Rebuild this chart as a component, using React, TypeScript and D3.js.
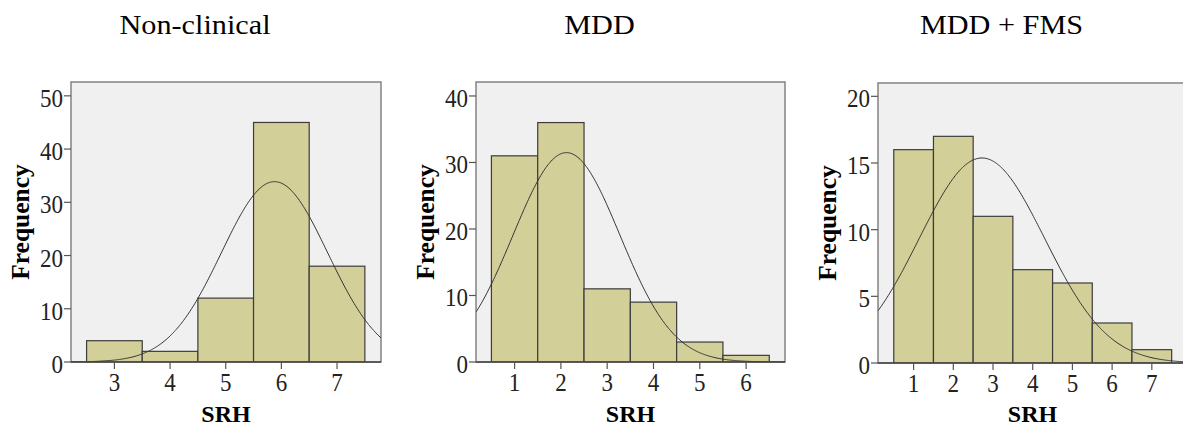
import React from "react";
import * as d3 from "d3";

// SRH frequency tables for the three groups
const nonClinicalSRH = [3, 4, 5, 6, 7];
const nonClinicalCounts = [4, 2, 12, 45, 18];

const mddSRH = [1, 2, 3, 4, 5, 6];
const mddCounts = [31, 36, 11, 9, 3, 1];

const fmsSRH = [1, 2, 3, 4, 5, 6, 7];
const fmsCounts = [16, 17, 11, 7, 6, 3, 1];

const titles = ["Non-clinical", "MDD", "MDD + FMS"];
const yTicks = [
  [0, 10, 20, 30, 40, 50],
  [0, 10, 20, 30, 40],
  [0, 5, 10, 15, 20],
];

const W = 1183;
const H = 428;
const SERIF = "'Liberation Serif', 'Times New Roman', serif";

type Panel = {
  title: string;
  values: number[];
  counts: number[];
  yTicks: number[];
  left: number;
  right: number;
  top: number;
  bottom: number;
  xDomain: [number, number];
  yMax: number;
};

const panels: Panel[] = [
  {
    title: titles[0],
    values: nonClinicalSRH,
    counts: nonClinicalCounts,
    yTicks: yTicks[0],
    left: 71,
    right: 381,
    top: 82,
    bottom: 362,
    xDomain: [2.22, 7.79],
    yMax: 52.6,
  },
  {
    title: titles[1],
    values: mddSRH,
    counts: mddCounts,
    yTicks: yTicks[1],
    left: 476,
    right: 785,
    top: 82,
    bottom: 362,
    xDomain: [0.167, 6.84],
    yMax: 42.1,
  },
  {
    title: titles[2],
    values: fmsSRH,
    counts: fmsCounts,
    yTicks: yTicks[2],
    left: 878,
    right: 1187,
    top: 83,
    bottom: 363,
    xDomain: [0.103, 7.886],
    yMax: 21.0,
  },
];

// Normal curve scaled to the histogram (n * bin width * pdf)
function normalFit(values: number[], counts: number[]) {
  const n = d3.sum(counts);
  const mean = d3.sum(values, (v, i) => v * counts[i]) / n;
  const ss = d3.sum(values, (v, i) => counts[i] * (v - mean) ** 2);
  const sd = Math.sqrt(ss / (n - 1));
  return (x: number) =>
    (n / (sd * Math.sqrt(2 * Math.PI))) * Math.exp(-0.5 * ((x - mean) / sd) ** 2);
}

function HistPanel({ p, idx }: { p: Panel; idx: number }) {
  const x = d3.scaleLinear().domain(p.xDomain).range([p.left, p.right]);
  const y = d3.scaleLinear().domain([0, p.yMax]).range([p.bottom, p.top]);
  const f = normalFit(p.values, p.counts);
  const xs = d3.range(p.xDomain[0], p.xDomain[1] + 0.001, (p.xDomain[1] - p.xDomain[0]) / 300);
  const line = d3
    .line<number>()
    .x((v) => x(v))
    .y((v) => y(f(v)))
    .curve(d3.curveBasis);
  const clipId = `plotclip-${idx}`;
  const cx = (p.left + p.right) / 2;
  const cy = (p.top + p.bottom) / 2;

  return (
    <g>
      <defs>
        <clipPath id={clipId}>
          <rect x={p.left} y={p.top} width={p.right - p.left} height={p.bottom - p.top} />
        </clipPath>
      </defs>
      <text
        transform={`translate(${cx - 31},34) scale(1.12,1)`}
        textAnchor="middle"
        fontFamily={SERIF}
        fontSize={27}
        fill="#000"
      >
        {p.title}
      </text>
      <rect
        x={p.left}
        y={p.top}
        width={p.right - p.left}
        height={p.bottom - p.top}
        fill="#f0f0f0"
        stroke="#8a8a8a"
        strokeWidth={1.6}
      />
      <g clipPath={`url(#${clipId})`}>
        {p.values.map((v, i) => (
          <rect
            key={v}
            x={x(v - 0.5)}
            y={y(p.counts[i])}
            width={x(v + 0.5) - x(v - 0.5)}
            height={y(0) - y(p.counts[i])}
            fill="#d3cf98"
            stroke="#3c3c3c"
            strokeWidth={1.2}
          />
        ))}
        <path d={line(xs) || ""} fill="none" stroke="#333" strokeWidth={1} />
      </g>
      <line x1={p.left} x2={p.right} y1={p.bottom} y2={p.bottom} stroke="#444" strokeWidth={1.4} />
      {p.yTicks.map((t) => (
        <g key={t}>
          <line x1={p.left - 7} x2={p.left} y1={y(t)} y2={y(t)} stroke="#555" strokeWidth={1.2} />
          <text
            transform={`translate(${p.left - 8},${y(t) + 11}) scale(0.94,1)`}
            textAnchor="end"
            fontFamily={SERIF}
            fontSize={24.5}
            fill="#222"
          >
            {t}
          </text>
        </g>
      ))}
      {p.values.map((v) => (
        <g key={v}>
          <line x1={x(v)} x2={x(v)} y1={p.bottom} y2={p.bottom + 7} stroke="#555" strokeWidth={1.2} />
          <text
            transform={`translate(${x(v)},${p.bottom + 29}) scale(0.94,1)`}
            textAnchor="middle"
            fontFamily={SERIF}
            fontSize={24.5}
            fill="#222"
          >
            {v}
          </text>
        </g>
      ))}
      <text
        transform={`translate(${p.left - 42},${cy}) rotate(-90)`}
        textAnchor="middle"
        fontFamily={SERIF}
        fontWeight="bold"
        fontSize={25.5}
        fill="#000"
      >
        Frequency
      </text>
      <text
        x={cx}
        y={422}
        textAnchor="middle"
        fontFamily={SERIF}
        fontWeight="bold"
        fontSize={24}
        fill="#000"
      >
        SRH
      </text>
    </g>
  );
}

export default function App() {
  return (
    <svg
      width={W}
      height={H}
      viewBox={`0 0 ${W} ${H}`}
      style={{ position: "absolute", left: 0, top: 0, background: "#fff", overflow: "hidden" }}
    >
      <rect width={W} height={H} fill="#fff" />
      {panels.map((p, i) => (
        <HistPanel key={p.title} p={p} idx={i} />
      ))}
    </svg>
  );
}
